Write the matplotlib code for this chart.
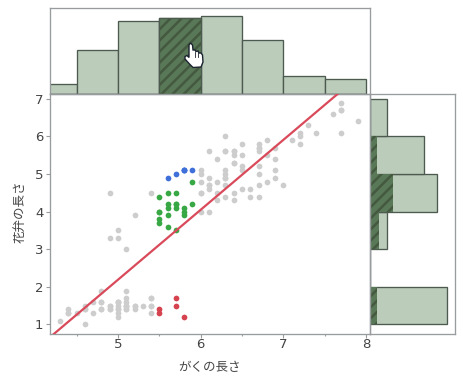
import matplotlib
matplotlib.use('Agg')
import matplotlib.pyplot as plt
import numpy as np
from matplotlib.patches import Polygon

# setosa / versicolor / virginica: outside the selected bin (gray)
gray_x = [5.1, 4.9, 4.7, 4.6, 5.0, 5.4, 4.6, 5.0, 4.4, 4.9, 5.4, 4.8, 4.8, 4.3, 5.4, 5.1, 5.1, 5.4, 5.1, 4.6, 5.1, 4.8, 5.0, 5.0, 5.2, 5.2, 4.7, 4.8, 5.4, 5.2, 4.9, 5.0, 4.9, 4.4, 5.1, 5.0, 4.5, 4.4, 5.0, 5.1, 4.8, 5.1, 4.6, 5.3, 5.0,
          7.0, 6.4, 6.9, 6.5, 6.3, 4.9, 6.6, 5.2, 5.0, 6.0, 6.1, 6.7, 6.2, 6.1, 6.3, 6.1, 6.4, 6.6, 6.8, 6.7, 6.0, 6.0, 5.4, 6.0, 6.7, 6.3, 6.1, 5.0, 6.2, 5.1,
          6.3, 7.1, 6.3, 6.5, 7.6, 4.9, 7.3, 6.7, 7.2, 6.5, 6.4, 6.8, 6.4, 6.5, 7.7, 7.7, 6.0, 6.9, 7.7, 6.3, 6.7, 7.2, 6.2, 6.1, 6.4, 7.2, 7.4, 7.9, 6.4, 6.3, 6.1, 7.7, 6.3, 6.4, 6.0, 6.9, 6.7, 6.9, 6.8, 6.7, 6.7, 6.3, 6.5, 6.2]
gray_y = [1.4, 1.4, 1.3, 1.5, 1.4, 1.7, 1.4, 1.5, 1.4, 1.5, 1.5, 1.6, 1.4, 1.1, 1.3, 1.4, 1.5, 1.7, 1.5, 1.0, 1.7, 1.9, 1.6, 1.6, 1.5, 1.4, 1.6, 1.6, 1.5, 1.5, 1.5, 1.2, 1.4, 1.3, 1.5, 1.3, 1.3, 1.3, 1.6, 1.9, 1.4, 1.6, 1.4, 1.5, 1.4,
          4.7, 4.5, 4.9, 4.6, 4.7, 3.3, 4.6, 3.9, 3.5, 4.0, 4.7, 4.4, 4.5, 4.0, 4.9, 4.7, 4.3, 4.4, 4.8, 5.0, 4.5, 5.1, 4.5, 4.5, 4.7, 4.4, 4.6, 3.3, 4.3, 3.0,
          6.0, 5.9, 5.6, 5.8, 6.6, 4.5, 6.3, 5.8, 6.1, 5.1, 5.3, 5.5, 5.3, 5.5, 6.7, 6.9, 5.0, 5.7, 6.7, 4.9, 5.7, 6.0, 4.8, 4.9, 5.6, 5.8, 6.1, 6.4, 5.6, 5.1, 5.6, 6.1, 5.6, 5.5, 4.8, 5.4, 5.6, 5.1, 5.9, 5.7, 5.2, 5.0, 5.2, 5.4]
red_x = [5.8, 5.7, 5.7, 5.5, 5.5]
red_y = [1.2, 1.5, 1.7, 1.4, 1.3]
green_x = [5.5, 5.7, 5.9, 5.6, 5.6, 5.8, 5.6, 5.9, 5.7, 5.5, 5.5, 5.8, 5.6, 5.5, 5.5, 5.8, 5.6, 5.7, 5.7, 5.7]
green_y = [4.0, 4.5, 4.2, 3.6, 4.5, 4.1, 3.9, 4.8, 3.5, 3.8, 3.7, 3.9, 4.1, 4.0, 4.4, 4.0, 4.2, 4.2, 4.2, 4.1]
blue_x = [5.8, 5.7, 5.8, 5.6, 5.8, 5.9]
blue_y = [5.1, 5.0, 5.1, 4.9, 5.1, 5.1]

# histograms
x_edges = [4.0, 4.5, 5.0, 5.5, 6.0, 6.5, 7.0, 7.5, 8.0]
x_counts = [4, 18, 30, 31, 32, 22, 7, 6]
x_selected = [0, 0, 0, 31, 0, 0, 0, 0]
y_edges = [1, 2, 3, 4, 5, 6, 7]
y_counts = [50, 0, 11, 43, 35, 11]
y_selected = [5, 0, 6, 15, 5, 0]

W, H = 463, 380
BAR = '#bbccbb'
EDGE = '#4d5a4f'
DARK = '#587857'
STRIPE = '#44593f'
AXC = '#999c9f'
TXT = '#444444'
CJK = ['Noto Sans CJK JP', 'DejaVu Sans']

plt.rcParams['hatch.linewidth'] = 1.8


def rect(l, t, r, b):
    # pixel box -> figure fraction
    return [l / W, 1 - b / H, (r - l) / W, (b - t) / H]


fig = plt.figure(figsize=(W / 100, H / 100), dpi=100)
ax = fig.add_axes(rect(49.5, 93.5, 369.5, 333.5))
top = fig.add_axes(rect(49.5, 8.5, 369.5, 93.5))
right = fig.add_axes(rect(369.5, 93.5, 454.5, 333.5))

# top histogram
widths = np.diff(x_edges)
top.bar(x_edges[:-1], x_counts, widths, align='edge', color=BAR, edgecolor=EDGE, linewidth=0.95, zorder=2)
top.bar(x_edges[:-1], x_selected, widths, align='edge', color=DARK, edgecolor=STRIPE, hatch='///', linewidth=0, zorder=3)
top.bar(x_edges[:-1], x_selected, widths, align='edge', fill=False, edgecolor=EDGE, linewidth=0.95, zorder=4)
top.set_xlim(4.171, 8.042)
top.set_ylim(0, 35)
top.set_xticks([])
top.set_yticks([])

# right histogram
heights = np.diff(y_edges)
right.barh(y_edges[:-1], y_counts, heights, align='edge', color=BAR, edgecolor=EDGE, linewidth=0.95, zorder=2)
right.barh(y_edges[:-1], y_selected, heights, align='edge', color=DARK, edgecolor=STRIPE, hatch='///', linewidth=0, zorder=3)
right.set_ylim(0.76, 7.14)
right.set_xlim(0, 54.5)
right.set_xticks([])
right.set_yticks([])

# scatter
ax.scatter(gray_x, gray_y, s=17, color='#cdcdcd', linewidths=0, zorder=2)
ax.scatter(red_x, red_y, s=17, color='#d5434f', linewidths=0, zorder=3)
ax.scatter(green_x, green_y, s=17, color='#38a845', linewidths=0, zorder=3)
ax.scatter(blue_x, blue_y, s=17, color='#3f6fd8', linewidths=0, zorder=3)

# fit line over all the points
all_x = gray_x + red_x + green_x + blue_x
all_y = gray_y + red_y + green_y + blue_y
slope, icpt = np.polyfit(all_x, all_y, 1)
xs = np.array([4.171, 8.042])
ax.plot(xs, slope * xs + icpt, color='#d94a5b', linewidth=1.6, zorder=4)

ax.set_xlim(4.171, 8.042)
ax.set_ylim(0.76, 7.14)
ax.set_xticks([5, 6, 7, 8])
ax.set_xticks([4.5, 5.5, 6.5, 7.5], minor=True)
ax.set_yticks([1, 2, 3, 4, 5, 6, 7])
ax.tick_params(axis='y', which='major', length=3, width=0.8, color=AXC, labelcolor=TXT, labelsize=9.5, pad=1.5)
ax.tick_params(axis='x', which='major', length=3, width=0.8, color=AXC, labelcolor=TXT, labelsize=9.5, pad=0.3)
ax.tick_params(axis='x', which='minor', length=1.5, width=0.8, color=AXC)

for a in (ax, top, right):
    for s in a.spines.values():
        s.set_color(AXC)
        s.set_linewidth(0.95)
ax.set_zorder(3)
ax.patch.set_alpha(0)

fig.text(209 / W, 1 - 368 / H, 'がくの長さ', family=CJK, fontsize=9, color=TXT, ha='center', va='center')
fig.text(20 / W, 1 - 212 / H, '花弁の長さ', family=CJK, fontsize=9, color=TXT, ha='center', va='center', rotation=90)

# hand cursor, in figure pixels
hand = [(189, 45), (190.5, 43), (192.5, 45), (193, 50), (195, 50), (196, 51.5), (198, 51), (199, 53), (201, 53),
        (202.5, 55), (203, 62), (201, 67), (193, 67.5), (189.5, 64), (185, 59), (185, 56.5), (187, 55.5), (189, 57.5)]
fig.add_artist(Polygon([(x / W, 1 - y / H) for x, y in hand], closed=True, transform=fig.transFigure,
                       facecolor='white', edgecolor='#1c2430', linewidth=1.0, zorder=10))
for fx in (195, 198):
    fig.add_artist(plt.Line2D([fx / W, fx / W], [1 - 52 / H, 1 - 57 / H], color='#1c2430', linewidth=0.6, zorder=11))

fig.savefig('out.png', dpi=100)
